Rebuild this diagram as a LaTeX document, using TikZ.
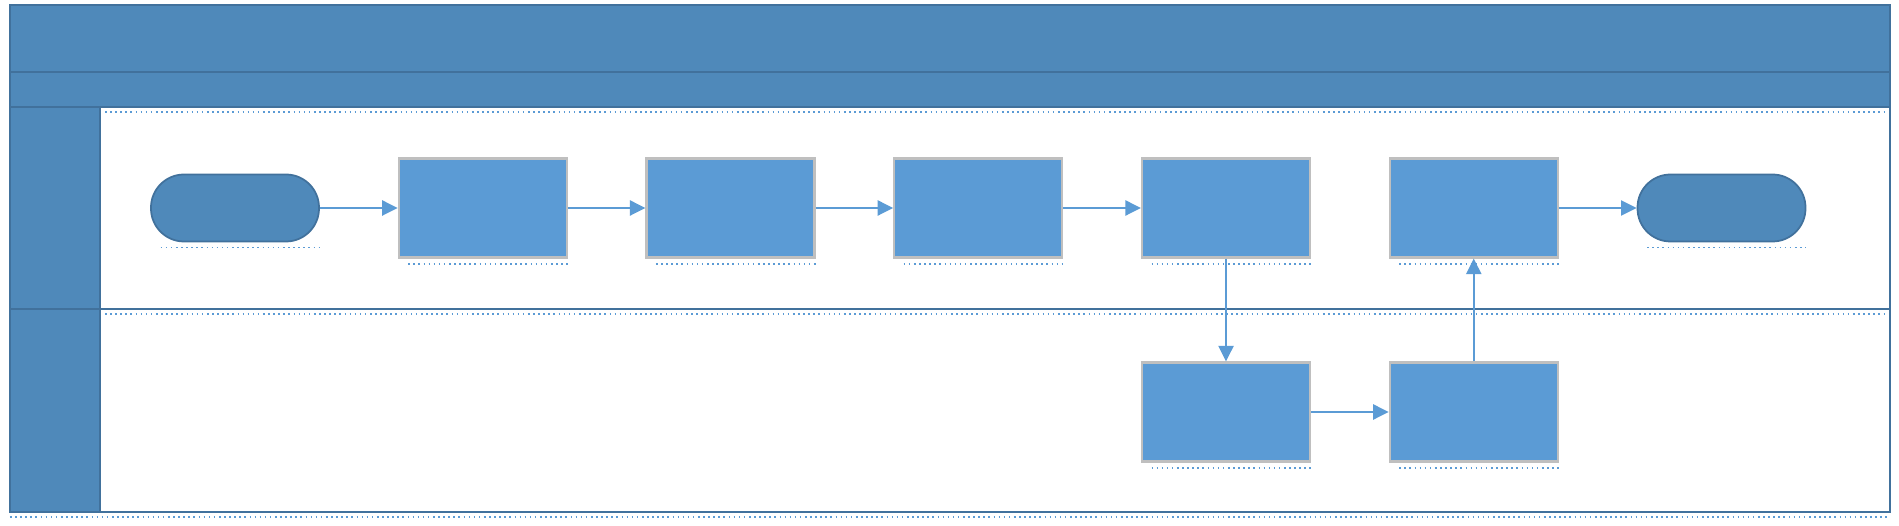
\documentclass[tikz,border=0pt]{standalone}
\usepackage{xcolor}
\usetikzlibrary{arrows.meta,positioning}
\definecolor{lnblue}{RGB}{79,137,186}
\definecolor{lnborder}{RGB}{65,113,156}
\definecolor{stepblue}{RGB}{91,155,213}
\definecolor{stepgray}{RGB}{191,191,191}
\tikzstyle{terminal} = [rectangle, rounded corners=0.66cm, minimum width=3.36cm, minimum height=1.34cm, draw=lnborder, fill=lnblue, line width=1pt]
\tikzstyle{stepbox} = [rectangle, minimum width=3.36cm, minimum height=1.98cm, draw=stepgray, fill=stepblue, line width=1.2pt]
\tikzstyle{arrow} = [line width=1.2pt, -{Triangle[length=0.31cm,width=0.3cm]}, color=stepblue]
\tikzstyle{lane} = [draw=lnborder, line width=1.2pt]
\tikzstyle{shade} = [stepblue, dotted, line width=0.9pt]
\begin{document}
\begin{tikzpicture}[node distance=4.955cm, on grid]
\useasboundingbox (0,0) rectangle (37.98,-10.52);
% Pool header and lane labels
\fill[lnblue] (0.2,-0.1) rectangle (37.8,-2.14);
\fill[lnblue] (0.2,-2.14) rectangle (2,-10.24);
\draw[lane] (0.2,-0.1) rectangle (37.8,-10.24);
\draw[lane] (0.2,-1.44) -- (37.8,-1.44);
\draw[lane] (0.2,-2.14) -- (37.8,-2.14);
\draw[lane] (2,-2.14) -- (2,-10.24);
\draw[lane] (0.2,-6.18) -- (37.8,-6.18);
\draw[shade] (2.1,-2.24) -- (37.7,-2.24);
\draw[shade] (2.1,-6.28) -- (37.7,-6.28);
\draw[shade] (0.2,-10.34) -- (37.8,-10.34);

% Upper lane
\node[terminal] (start) at (4.7,-4.16) {};
\node[stepbox, right=of start] (s1) {};
\node[stepbox, right=of s1] (s2) {};
\node[stepbox, right=of s2] (s3) {};
\node[stepbox, right=of s3] (s4) {};
\node[stepbox, right=of s4] (s5) {};
\node[terminal, right=of s5] (stop) {};

% Lower lane
\node[stepbox, below=4.08cm of s4] (t1) {};
\node[stepbox, below=4.08cm of s5] (t2) {};

% shadows
\foreach \n in {start,s1,s2,s3,s4,s5,stop,t1,t2}
  \draw[shade] ([xshift=6pt,yshift=-3pt]\n.south west) -- ([yshift=-3pt]\n.south east);

\draw[arrow] (start) -- (s1);
\draw[arrow] (s1) -- (s2);
\draw[arrow] (s2) -- (s3);
\draw[arrow] (s3) -- (s4);
\draw[arrow] (s4) -- (t1);
\draw[arrow] (t1) -- (t2);
\draw[arrow] (t2) -- (s5);
\draw[arrow] (s5) -- (stop);
\end{tikzpicture}
\end{document}
